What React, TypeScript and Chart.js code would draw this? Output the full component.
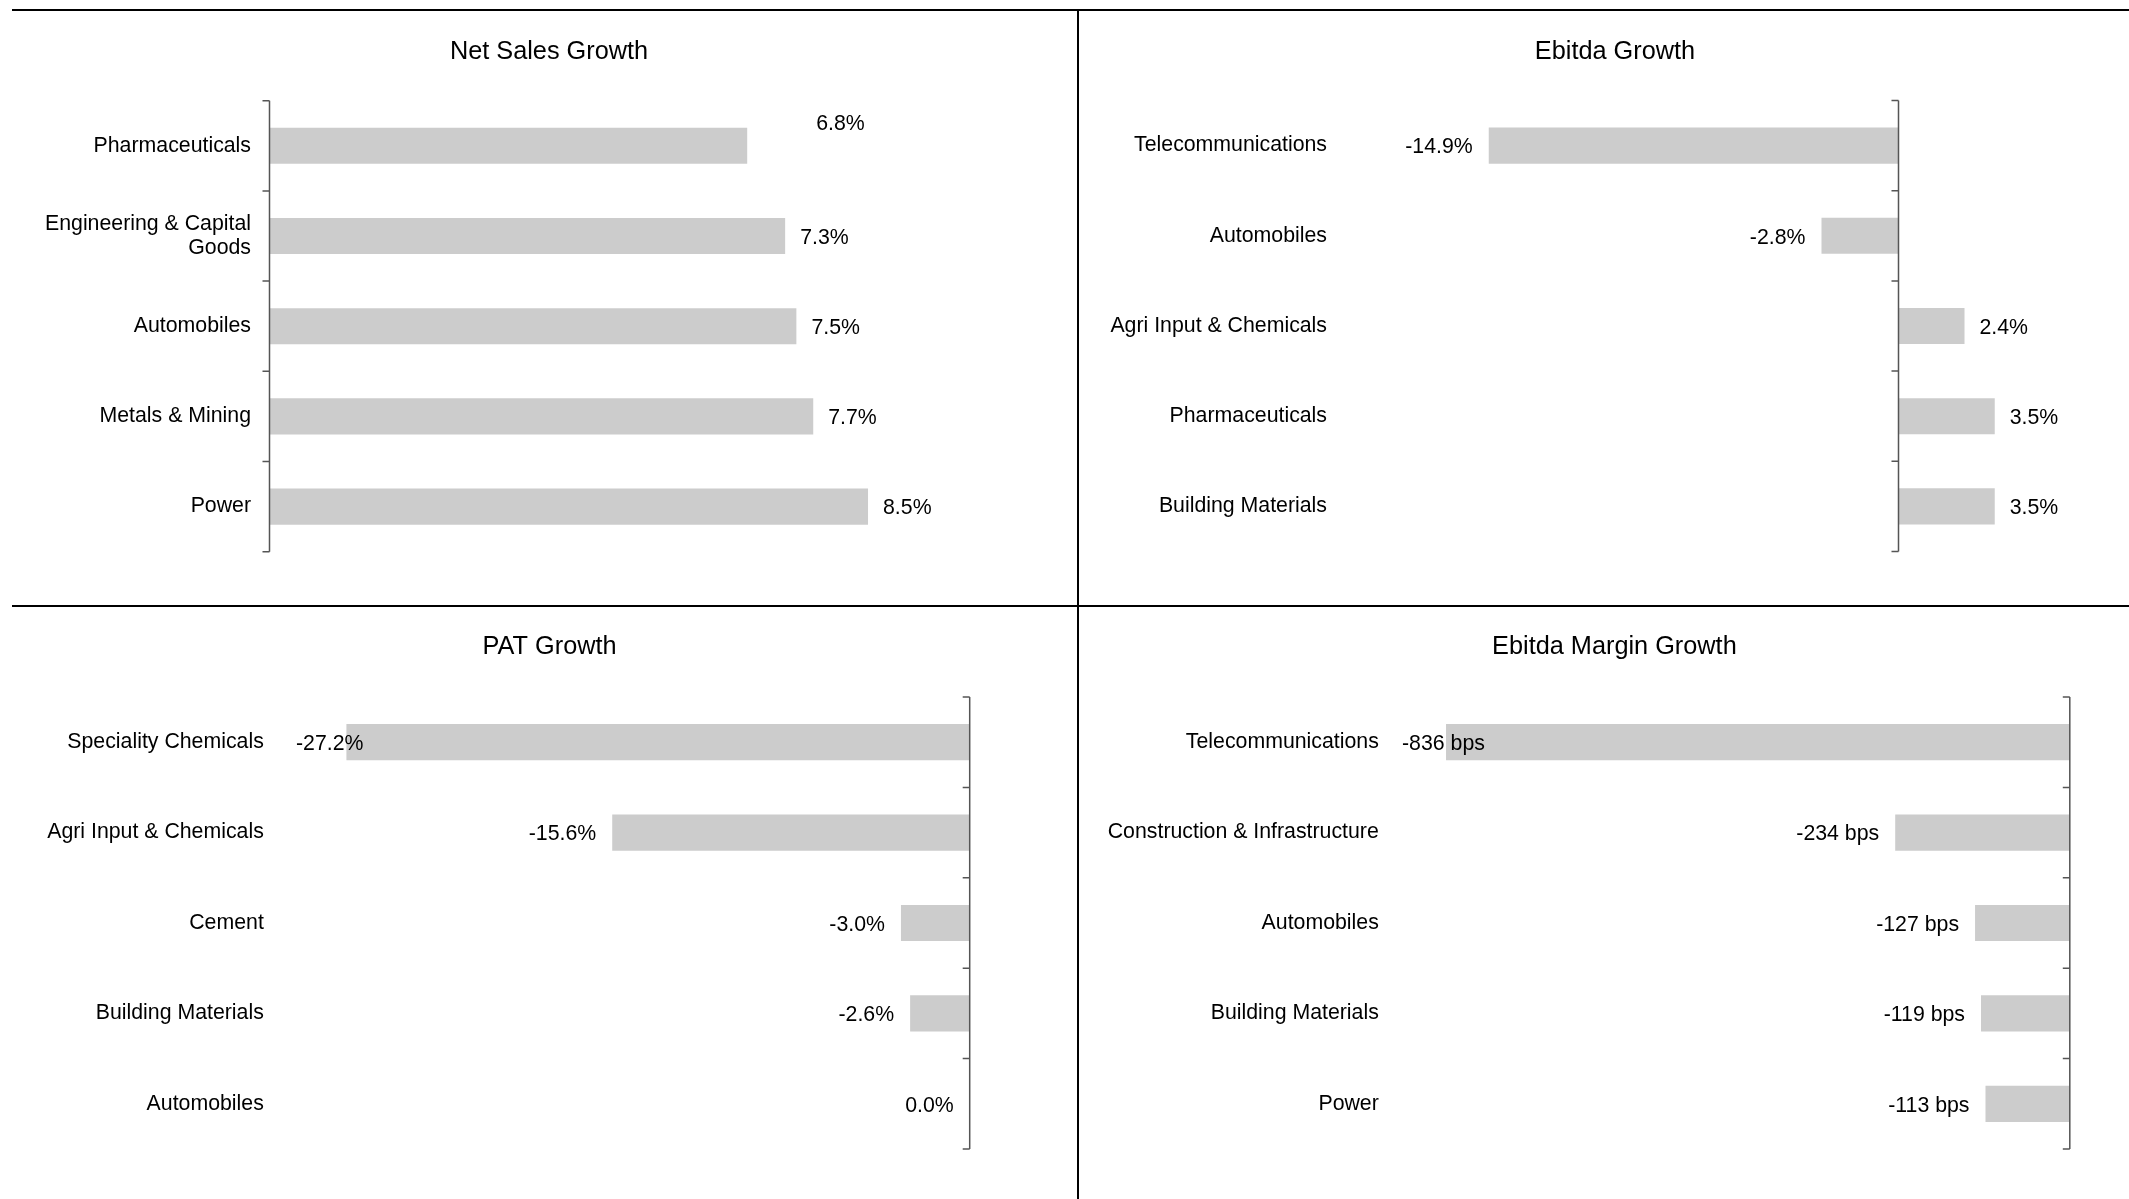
import React, { useEffect, useRef } from 'react';
import { Chart, registerables } from 'chart.js';

Chart.register(...registerables);

// ---------- data ----------
const netSalesTitle = 'Net Sales Growth';
const netSalesCategories: (string | string[])[] = [
  'Pharmaceuticals',
  ['Engineering & Capital', 'Goods'],
  'Automobiles',
  'Metals & Mining',
  'Power',
];
const netSalesValues = [6.8, 7.34, 7.5, 7.74, 8.52];

const ebitdaTitle = 'Ebitda Growth';
const ebitdaCategories = [
  'Telecommunications',
  'Automobiles',
  'Agri Input & Chemicals',
  'Pharmaceuticals',
  'Building Materials',
];
const ebitdaValues = [-14.9, -2.8, 2.4, 3.5, 3.5];

const patTitle = 'PAT Growth';
const patCategories = [
  'Speciality Chemicals',
  'Agri Input & Chemicals',
  'Cement',
  'Building Materials',
  'Automobiles',
];
const patValues = [-27.2, -15.6, -3.0, -2.6, 0.0];

const marginTitle = 'Ebitda Margin Growth';
const marginCategories = [
  'Telecommunications',
  'Construction & Infrastructure',
  'Automobiles',
  'Building Materials',
  'Power',
];
const marginValues = [-836, -234, -127, -119, -113];

// ---------- styling / layout ----------
const FONT = "'Liberation Sans', Arial, Helvetica, sans-serif";
const LABEL_SIZE = 21.3;
const TITLE_SIZE = 25.3;
const BAR_COLOR = '#CCCCCC';
const AXIS_COLOR = '#555555';

type Box = { x: number; y: number; w: number; h: number };
type PanelCfg = {
  title: string;
  categories: (string | string[])[];
  values: number[];
  unit: 'pct' | 'bps';
  box: Box;
  plot: { left: number; right: number; top: number; bottom: number };
  xMin: number;
  xMax: number;
  labelRight: number;
  titleX: number;
  titleY: number;
  nudges?: [number, number][];
};

const panels: PanelCfg[] = [
  {
    title: netSalesTitle,
    categories: netSalesCategories,
    values: netSalesValues,
    unit: 'pct',
    box: { x: 12, y: 11, w: 1065, h: 594 },
    plot: { left: 269.5, right: 972, top: 100.7, bottom: 551.7 },
    xMin: 0,
    xMax: 10,
    labelRight: 251,
    titleX: 549,
    titleY: 52.5,
    nudges: [[54, -24], [0, 0], [0, 0], [0, 0], [0, 0]],
  },
  {
    title: ebitdaTitle,
    categories: ebitdaCategories,
    values: ebitdaValues,
    unit: 'pct',
    box: { x: 1079, y: 11, w: 1050, h: 594 },
    plot: { left: 1348.5, right: 2036, top: 100.5, bottom: 551.5 },
    xMin: -20,
    xMax: 5,
    labelRight: 1327,
    titleX: 1615,
    titleY: 52.5,
  },
  {
    title: patTitle,
    categories: patCategories,
    values: patValues,
    unit: 'pct',
    box: { x: 12, y: 607, w: 1065, h: 592 },
    plot: { left: 296, right: 969.7, top: 697, bottom: 1149 },
    xMin: -29.4,
    xMax: 0,
    labelRight: 263.8,
    titleX: 549.6,
    titleY: 647.5,
  },
  {
    title: marginTitle,
    categories: marginCategories,
    values: marginValues,
    unit: 'bps',
    box: { x: 1079, y: 607, w: 1050, h: 592 },
    plot: { left: 1402, right: 2069.8, top: 697, bottom: 1149 },
    xMin: -895,
    xMax: 0,
    labelRight: 1378.8,
    titleX: 1614.4,
    titleY: 647.5,
  },
];

function fmt(v: number, unit: 'pct' | 'bps') {
  return unit === 'pct' ? `${v.toFixed(1)}%` : `${Math.round(v)} bps`;
}

function makeDecor(p: PanelCfg) {
  return {
    id: 'panelDecor',
    afterDatasetsDraw(chart: any) {
      const { ctx, chartArea } = chart;
      const xs = chart.scales.x;
      const ys = chart.scales.y;
      const x0 = xs.getPixelForValue(0);
      const n = p.categories.length;
      ctx.save();
      // zero axis with tick marks at category boundaries
      ctx.strokeStyle = AXIS_COLOR;
      ctx.lineWidth = 1.5;
      ctx.beginPath();
      ctx.moveTo(x0, chartArea.top);
      ctx.lineTo(x0, chartArea.bottom);
      for (let i = 0; i <= n; i++) {
        const y = ys.getPixelForValue(i - 0.5);
        ctx.moveTo(x0 - 7, y);
        ctx.lineTo(x0, y);
      }
      ctx.stroke();

      // data labels
      ctx.font = `${LABEL_SIZE}px ${FONT}`;
      ctx.fillStyle = '#000000';
      ctx.textBaseline = 'middle';
      ctx.textAlign = 'left';
      const meta = chart.getDatasetMeta(0);
      meta.data.forEach((bar: any, i: number) => {
        const v = p.values[i];
        const text = fmt(v, p.unit);
        const w = ctx.measureText(text).width;
        const leftSide = v < 0 || (v === 0 && p.xMax <= 0);
        let left: number;
        if (leftSide) {
          left = Math.max(bar.x - 16 - w, chartArea.left);
        } else {
          left = bar.x + 15;
        }
        const nd = p.nudges ? p.nudges[i] : [0, 0];
        ctx.fillText(text, left + nd[0], bar.y + 2 + nd[1]);
      });
      ctx.restore();
    },
    afterDraw(chart: any) {
      const { ctx } = chart;
      ctx.save();
      ctx.font = `${TITLE_SIZE}px ${FONT}`;
      ctx.fillStyle = '#000000';
      ctx.textAlign = 'center';
      ctx.textBaseline = 'middle';
      ctx.fillText(p.title, p.titleX - p.box.x, p.titleY - p.box.y);
      ctx.restore();
    },
  };
}

function Panel({ p }: { p: PanelCfg }) {
  const ref = useRef<HTMLCanvasElement | null>(null);
  useEffect(() => {
    if (!ref.current) return;
    const yAxisWidth = p.plot.left - p.box.x;
    const chart = new Chart(ref.current, {
      type: 'bar',
      data: {
        labels: p.categories as any,
        datasets: [
          {
            data: p.values,
            backgroundColor: BAR_COLOR,
            borderWidth: 0,
            barPercentage: 0.4,
            categoryPercentage: 1.0,
          },
        ],
      },
      options: {
        indexAxis: 'y',
        responsive: false,
        animation: false,
        devicePixelRatio: 1,
        events: [],
        layout: {
          padding: {
            left: 0,
            right: p.box.x + p.box.w - p.plot.right,
            top: p.plot.top - p.box.y,
            bottom: p.box.y + p.box.h - p.plot.bottom,
          },
        },
        plugins: {
          legend: { display: false },
          tooltip: { enabled: false },
          title: { display: false },
        },
        scales: {
          x: {
            type: 'linear',
            display: false,
            min: p.xMin,
            max: p.xMax,
          },
          y: {
            type: 'category',
            position: 'left',
            grid: { display: false, drawTicks: false },
            border: { display: false },
            ticks: {
              autoSkip: false,
              padding: p.plot.left - p.labelRight,
              color: '#000000',
              font: { family: FONT, size: LABEL_SIZE, lineHeight: 1.1 },
            },
            afterFit: (s: any) => {
              s.width = yAxisWidth;
            },
          },
        },
      } as any,
      plugins: [makeDecor(p)],
    });
    return () => chart.destroy();
  }, [p]);
  return (
    <canvas
      ref={ref}
      width={p.box.w}
      height={p.box.h}
      style={{
        position: 'absolute',
        left: p.box.x,
        top: p.box.y,
        width: p.box.w,
        height: p.box.h,
      }}
    />
  );
}

export default function App() {
  const line = (l: number, t: number, w: number, h: number) => ({
    position: 'absolute' as const,
    left: l,
    top: t,
    width: w,
    height: h,
    background: '#000',
    zIndex: 2,
  });
  return (
    <div
      style={{
        position: 'absolute',
        left: 0,
        top: 0,
        width: 2129,
        height: 1199,
        overflow: 'hidden',
        background: '#fff',
      }}
    >
      {panels.map((p, i) => (
        <Panel key={i} p={p} />
      ))}
      <div style={line(12, 9, 2117, 2)} />
      <div style={line(12, 605, 2117, 2)} />
      <div style={line(1077, 9, 2, 1190)} />
    </div>
  );
}
